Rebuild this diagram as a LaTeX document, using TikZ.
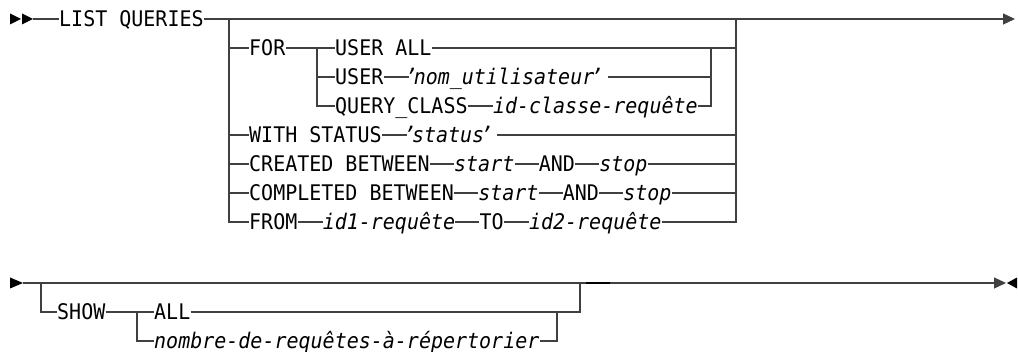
\documentclass[tikz,border=0pt]{standalone}
\usepackage{fontspec}
\usepackage{tikz}
\usetikzlibrary{arrows.meta,positioning}
\newfontfamily\synfont{DejaVu Sans Mono}[FakeStretch=0.93]
\newcommand\quo[1]{\makebox[5pt]{’}#1\makebox[5pt]{’}}
\tikzset{
  kw/.style={inner sep=0pt,anchor=west,text height=15.5pt,text depth=0pt,font=\synfont\fontsize{21.5}{25}\selectfont},
  var/.style={kw,font=\synfont\fontsize{21.5}{25}\selectfont\itshape},
  rail/.style={line width=1.2pt,draw=black!75},
  endtip/.style={-{Triangle[length=12pt,width=11pt]}},
}

\begin{document}
\begin{tikzpicture}[x=1pt,y=-1pt]%
        %\draw[step=10pt,color=gray,very thin] (0,0) grid (1018,352);%%
        \useasboundingbox (0,0) rectangle (1018,352); %%
        % first part
        \fill[black] (10,13.5)--(21,19)--(10,24.5)--cycle; %%
        \fill[black] (22,13.5)--(33,19)--(22,24.5)--cycle; %%
        \coordinate (begin) at (33,19); %%
        \coordinate (ljoin) at (229,19); %%
        \coordinate (rjoin) at (736,19); %%
        \coordinate (finish) at (1015,19); %%
        \coordinate (fjoin) at (317,48); %%
        \coordinate (fend) at (711,48); %%
        \begin{scope}
        \tikzstyle{every node}=[kw] %%
        \node (list) at (59,19) {LIST QUERIES}; %%
        \node (for) at (249,48) {FOR}; %%
        \node (userall) at (335,48) {USER ALL}; %%
        \node (user) at (335,77) {USER}; %%
        \node[var,right=25pt of user] (nom) {\quo{nom\_utilisateur}\kern8pt}; %%
        \node (qclass) at (335,106) {QUERY\_CLASS}; %%
        \node[var,right=25pt of qclass] (idclass) {id-classe-requête}; %%
        \node (with) at (249,135) {WITH STATUS}; %%
        \node[var,right=25pt of with] (status) {\quo{status}\kern8pt}; %%
        \node (created) at (249,164) {CREATED BETWEEN}; %%
        \node[var,right=24pt of created] (start) {start}; %%
        \node[right=24pt of start] (and) {AND}; %%
        \node[var,right=24pt of and] (stop) {stop}; %%
        \node (completed) at (249,193) {COMPLETED BETWEEN}; %%
        \node[var,right=24pt of completed] (startb) {start}; %%
        \node[right=24pt of startb] (andb) {AND}; %%
        \node[var,right=24pt of andb] (stopb) {stop}; %%
        \node (from) at (249,222) {FROM}; %%
        \node[var,right=25pt of from] (idone) {id1-requête}; %%
        \node[right=24pt of idone] (to) {TO}; %%
        \node[var,right=25pt of to] (idtwo) {id2-requête}; %%
        \end{scope}
        \draw[rail] (begin)--(list); %%
        \draw[rail,endtip] (list)--(finish); %%
        \draw[rail] (ljoin) |- (from.west); %%
        \foreach \n in {for,with,created,completed}
            \draw[rail] (ljoin |- \n.west)--(\n.west); %%
        \draw[rail] (for)--(fjoin); %%
        \draw[rail] (fjoin) |- (qclass.west); %%
        \draw[rail] (fjoin)--(userall); %%
        \draw[rail] (fjoin |- user.west)--(user); %%
        \draw[rail] (user)--(nom); %%
        \draw[rail] (qclass)--(idclass); %%
        \draw[rail] (nom.east)--(fend |- nom.east); %%
        \draw[rail] (idclass.east) -| (fend); %%
        \draw[rail] (with)--(status); %%
        \draw[rail] (created)--(start); %%
        \draw[rail] (start)--(and); %%
        \draw[rail] (and)--(stop); %%
        \draw[rail] (completed)--(startb); %%
        \draw[rail] (startb)--(andb); %%
        \draw[rail] (andb)--(stopb); %%
        \draw[rail] (from)--(idone); %%
        \draw[rail] (idone)--(to); %%
        \draw[rail] (to)--(idtwo); %%
        \foreach \n in {userall,status,stop,stopb}
            \draw[rail] (\n.east)--(rjoin |- \n.east); %%
        \draw[rail] (idtwo.east) -| (rjoin); %%
        % second part
        \fill[black] (10,277.5)--(23,283)--(10,288.5)--cycle; %%
        \fill[black] (1017,277.5)--(1007,283)--(1017,288.5)--cycle; %%
        \coordinate (begintwo) at (23,283); %%
        \coordinate (ljointwo) at (41,283); %%
        \coordinate (sjoin) at (137,312); %%
        \coordinate (send) at (557,312); %%
        \coordinate (rjointwo) at (580,283); %%
        \coordinate (marka) at (586,283); %%
        \coordinate (markb) at (610,283); %%
        \coordinate (finishtwo) at (1006,283); %%
        \begin{scope}
        \tikzstyle{every node}=[kw] %%
        \node (show) at (57,312) {SHOW}; %%
        \node (all) at (154,312) {ALL}; %%
        \node[var] (nombre) at (154,341) {nombre-de-requêtes-à-répertorier}; %%
        \end{scope}
        \draw[rail,endtip] (begintwo)--(finishtwo); %%
        \draw[line width=1.6pt,black] (marka)--(markb); %%
        \draw[rail] (ljointwo) |- (show.west); %%
        \draw[rail] (show)--(sjoin); %%
        \draw[rail] (sjoin)--(all); %%
        \draw[rail] (sjoin) |- (nombre.west); %%
        \draw[rail] (nombre.east) -| (send); %%
        \draw[rail] (all.east) -| (rjointwo); %%
\end{tikzpicture}
\end{document}
